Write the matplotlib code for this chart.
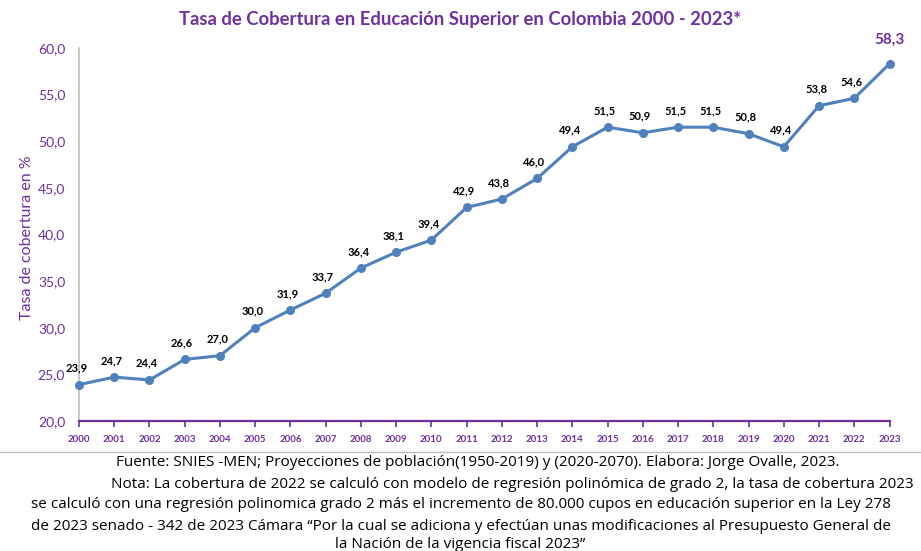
import matplotlib
matplotlib.use("Agg")
import matplotlib.pyplot as plt
from matplotlib import font_manager

years = list(range(2000, 2024))
values = [23.9, 24.7, 24.4, 26.6, 27.0, 30.0, 31.9, 33.7, 36.4, 38.1, 39.4, 42.9,
          43.8, 46.0, 49.4, 51.5, 50.9, 51.5, 51.5, 50.8, 49.4, 53.8, 54.6, 58.3]
yticks = [20, 25, 30, 35, 40, 45, 50, 55, 60]

names = {f.name for f in font_manager.fontManager.ttflist}
narrow = "Liberation Sans Narrow" if "Liberation Sans Narrow" in names else "Open Sans"
base = "Lato"
plt.rcParams['font.family'] = [base, 'DejaVu Sans']

purple = "#7030A0"
line_c = "#4F81BD"

fig = plt.figure(figsize=(9.21, 5.51), dpi=100)
ax = fig.add_axes([0.0858, 0.236, 0.880, 0.677])
ax.plot(years, values, color=line_c, lw=2.2, marker='o', ms=5.5, mfc=line_c, mec=line_c,
        clip_on=False, zorder=3)
ax.set_xlim(2000, 2023)
ax.set_ylim(20, 60)
ax.set_yticks(yticks)
ax.set_yticklabels([f"{t:.1f}".replace('.', ',') for t in yticks], color=purple, fontsize=10)
ax.set_xticks(years)
ax.set_xticklabels([str(y) for y in years], color=purple, fontsize=7, fontweight='bold')
ax.tick_params(axis='y', length=0, pad=10)
ax.tick_params(axis='x', length=4, color=purple, width=1.2, direction='out', pad=6)
for s in ['top', 'right']:
    ax.spines[s].set_visible(False)
ax.spines['left'].set_color('#BFBFBF')
ax.spines['left'].set_linewidth(1.2)
ax.spines['bottom'].set_color(purple)
ax.spines['bottom'].set_linewidth(1.6)
ax.set_ylabel("Tasa de cobertura en %", color=purple, fontsize=11.5)
ax.yaxis.set_label_coords(-0.055, 0.49)

for i, (x, v) in enumerate(zip(years, values)):
    lab = f"{v:.1f}".replace('.', ',')
    if i == len(values) - 1:
        ax.annotate(lab, (x, v), xytext=(0, 12), textcoords='offset points',
                    ha='center', va='bottom', color=purple, fontsize=11, fontweight='bold',
                    annotation_clip=False)
    else:
        ax.annotate(lab, (x, v), xytext=(-2, 8), textcoords='offset points',
                    ha='center', va='bottom', color='black', fontsize=8, fontweight='bold',
                    annotation_clip=False)

fig.text(0.5, 0.965, "Tasa de Cobertura en Educación Superior en Colombia 2000 - 2023*",
         ha='center', va='center', color=purple, fontsize=13.3, fontweight='bold')

fig.add_artist(plt.Line2D([0, 1], [1 - 452/551, 1 - 452/551], color='#BFBFBF', lw=1))

foot = [
    (478, 463, 'center', "Fuente: SNIES -MEN; Proyecciones de población(1950-2019) y (2020-2070). Elabora: Jorge Ovalle, 2023."),
    (914, 484, 'right', "Nota: La cobertura de 2022 se calculó con modelo de regresión polinómica de grado 2, la tasa de cobertura 2023"),
    (461, 505, 'center', "se calculó con una regresión polinomica grado 2 más el incremento de 80.000 cupos en educación superior en la Ley 278"),
    (461, 526, 'center', "de 2023 senado - 342 de 2023 Cámara “Por la cual se adiciona y efectúan unas modificaciones al Presupuesto General de"),
    (460, 545, 'center', "la Nación de la vigencia fiscal 2023”"),
]
for x, y, ha, t in foot:
    fig.text(x/921, 1 - y/551, t, ha=ha, va='center', fontsize=11,
             family=[narrow, 'DejaVu Sans'], color='black')

fig.savefig("out.png", dpi=100)
